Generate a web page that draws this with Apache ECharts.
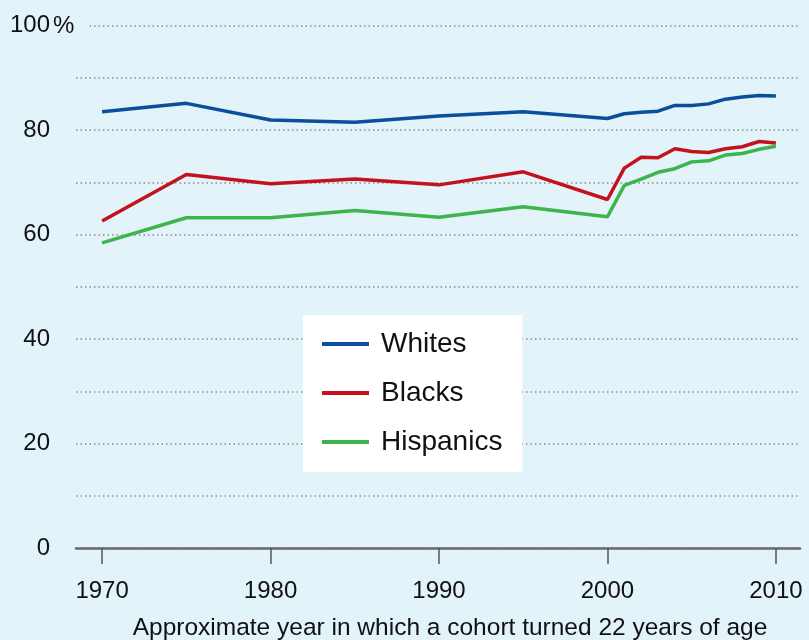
<!DOCTYPE html>
<html>
<head>
<meta charset="utf-8">
<script src="https://cdn.jsdelivr.net/npm/echarts@6/dist/echarts.min.js"></script>
<style>
html,body{margin:0;padding:0;background:#e2f3fa;}
#chart{width:809px;height:640px;}
</style>
</head>
<body>
<div id="chart"></div>
<script>
var years = [1970,1975,1980,1985,1990,1995,2000,2001,2002,2003,2004,2005,2006,2007,2008,2009,2010];
var whites = [83.5,85.1,81.9,81.5,82.7,83.5,82.2,83.1,83.4,83.6,84.7,84.7,85.0,85.9,86.3,86.6,86.5];
var blacks = [62.6,71.5,69.7,70.6,69.5,72.0,66.7,72.7,74.8,74.7,76.4,75.9,75.7,76.4,76.8,77.8,77.5];
var hispanics = [58.4,63.2,63.2,64.6,63.3,65.3,63.4,69.4,70.6,71.9,72.6,73.9,74.1,75.2,75.5,76.3,76.9];
var xTicks = [1970,1980,1990,2000,2010];
var seriesNames = ['Whites','Blacks','Hispanics'];
var seriesColors = ['#0b4f9c','#c4121d','#3db54a'];
var xTitle = 'Approximate year in which a cohort turned 22 years of age';

function pairs(vals){ return years.map(function(y,i){ return [y, vals[i]]; }); }
var allVals = [whites, blacks, hispanics];

var chart = echarts.init(document.getElementById('chart'));
var font = '"Liberation Sans", Arial, sans-serif';
chart.setOption({
  backgroundColor: '#e2f3fa',
  animation: false,
  textStyle: { fontFamily: font },
  grid: { left: 76, right: 9, top: 25.5, bottom: 92, containLabel: false, outerBoundsMode: 'none' },
  legend: {
    orient: 'vertical',
    left: 303, top: 315,
    backgroundColor: '#ffffff',
    padding: [15, 20, 16, 19],
    itemGap: 21,
    itemWidth: 47,
    itemHeight: 4,
    icon: 'rect',
    textStyle: { fontSize: 28, color: '#111', fontFamily: font, padding: [0,0,0,7] },
    data: seriesNames
  },
  xAxis: {
    type: 'value',
    min: 1968.45, max: 2011.43,
    name: xTitle,
    nameLocation: 'middle',
    nameGap: 68,
    nameTextStyle: { fontSize: 24.5, color: '#111', fontFamily: font, padding: [0,0,0,24] },
    axisLine: { show: true, lineStyle: { color: '#6a6a6a', width: 2.5 } },
    axisTick: { show: true, customValues: xTicks, length: 16, lineStyle: { color: '#555', width: 1.5 } },
    axisLabel: {
      customValues: xTicks, fontSize: 24, color: '#111', margin: 31, fontFamily: font,
      formatter: function(v){ return String(Math.round(v)); }
    },
    splitLine: { show: false }
  },
  yAxis: {
    type: 'value',
    min: 0, max: 100, interval: 10,
    axisLine: { show: false },
    axisTick: { show: false },
    axisLabel: {
      fontSize: 24, color: '#111', margin: 26, fontFamily: font,
      formatter: function(v){ return v % 20 === 0 ? String(v) : ''; }
    },
    splitLine: { show: true, lineStyle: { color: '#8c8c8c', width: 1.5, type: [1.5, 3] } }
  },
  graphic: [{
    type: 'text',
    left: 51, top: 12,
    z: 100,
    style: {
      text: '%', fontSize: 24, fill: '#111', fontFamily: font,
      backgroundColor: '#e2f3fa', padding: [2, 15, 2, 2]
    }
  }],
  series: seriesNames.map(function(n, i){
    return {
      name: n, type: 'line',
      data: pairs(allVals[i]),
      showSymbol: false, symbol: 'none',
      lineStyle: { color: seriesColors[i], width: 3.5 },
      itemStyle: { color: seriesColors[i] },
      z: 3 - i
    };
  })
});
</script>
</body>
</html>
